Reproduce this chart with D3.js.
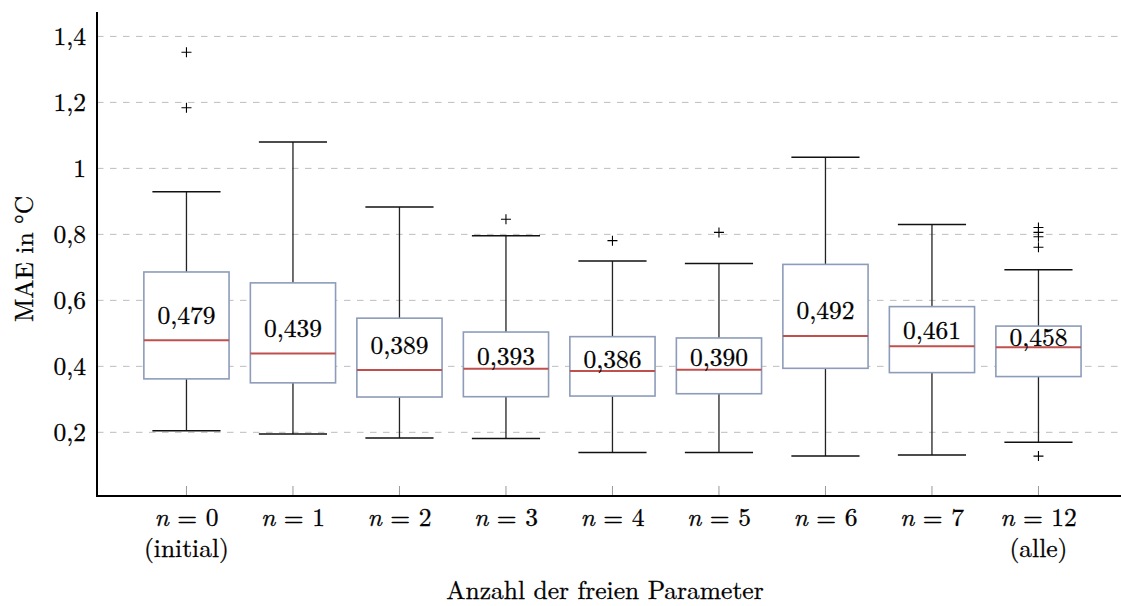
<!DOCTYPE html>
<html>
<head>
<meta charset="utf-8">
<script src="https://cdn.jsdelivr.net/npm/d3@7"></script>
<style>
  html, body { margin: 0; padding: 0; background: #fff; }
  svg { display: block; }
  svg text { fill: #000; stroke: #000; stroke-width: 0.3px; }
</style>
</head>
<body>
<svg id="chart" width="1121" height="606"></svg>
<script>
// Number of free parameters per configuration
const categories = ["0", "1", "2", "3", "4", "5", "6", "7", "12"];
const subLabels  = ["(initial)", "", "", "", "", "", "", "", "(alle)"];

// Box statistics of the MAE (°C)
const lowerWhisker  = [0.205, 0.195, 0.183, 0.181, 0.139, 0.139, 0.128, 0.131, 0.170];
const lowerQuartile = [0.362, 0.350, 0.307, 0.308, 0.310, 0.317, 0.394, 0.381, 0.369];
const median        = [0.479, 0.439, 0.389, 0.393, 0.386, 0.390, 0.492, 0.461, 0.458];
const upperQuartile = [0.686, 0.653, 0.546, 0.504, 0.490, 0.486, 0.709, 0.581, 0.522];
const upperWhisker  = [0.929, 1.080, 0.883, 0.796, 0.719, 0.712, 1.034, 0.830, 0.693];
// Mean MAE, where each median label is anchored
const mean          = [0.552, 0.513, 0.461, 0.428, 0.419, 0.427, 0.568, 0.507, 0.486];
const outliers = [
  [1.352, 1.184],
  [],
  [],
  [0.846],
  [0.781],
  [0.806],
  [],
  [],
  [0.821, 0.806, 0.793, 0.761, 0.128]
];

const yTicks = [0.2, 0.4, 0.6, 0.8, 1.0, 1.2, 1.4];

const FONT = '"Latin Modern Roman", "Liberation Serif", serif';
const FS = 25.5;

const svg = d3.select("#chart");
const plot = { left: 97, bottom: 496, top: 12, right: 1121 };

const x = d3.scaleLinear().domain([-0.84, 8.775]).range([plot.left, plot.right]);
const y = d3.scaleLinear().domain([0.007, 1.474]).range([plot.bottom, plot.top]);

const fmt = v => (v === 1 ? "1" : d3.format(".1f")(v).replace(".", ","));
const fmt3 = v => d3.format(".3f")(v).replace(".", ",");

// Dashed horizontal grid
svg.append("g")
  .selectAll("line")
  .data(yTicks)
  .join("line")
  .attr("x1", plot.left).attr("x2", plot.right)
  .attr("y1", d => y(d)).attr("y2", d => y(d))
  .attr("stroke", "#bdbdbd").attr("stroke-width", 1)
  .attr("stroke-dasharray", "6.5,6.5");

// Y axis labels
const yAxis = d3.axisLeft(y).tickValues(yTicks).tickFormat(fmt).tickSize(0).tickPadding(11);
const gy = svg.append("g").attr("transform", `translate(${plot.left},0)`).call(yAxis);
gy.select(".domain").remove();
gy.selectAll("text")
  .attr("dy", "0.32em")
  .style("font-family", FONT).style("font-size", FS + "px").style("fill", "#000");

// X tick marks (inside)
svg.append("g")
  .selectAll("line")
  .data(categories)
  .join("line")
  .attr("x1", (d, i) => x(i)).attr("x2", (d, i) => x(i))
  .attr("y1", plot.bottom).attr("y2", plot.bottom - 10)
  .attr("stroke", "#999").attr("stroke-width", 1);

// Boxes
const boxW = 0.8, capW = 0.64;
const g = svg.append("g");
categories.forEach((c, i) => {
  const cx = x(i);
  const hw = (x(boxW / 2) - x(0));
  const cw = (x(capW / 2) - x(0));
  // whiskers
  g.append("line").attr("x1", cx).attr("x2", cx)
    .attr("y1", y(upperQuartile[i])).attr("y2", y(upperWhisker[i]))
    .attr("stroke", "#222").attr("stroke-width", 1.3);
  g.append("line").attr("x1", cx).attr("x2", cx)
    .attr("y1", y(lowerQuartile[i])).attr("y2", y(lowerWhisker[i]))
    .attr("stroke", "#222").attr("stroke-width", 1.3);
  g.append("line").attr("x1", cx - cw).attr("x2", cx + cw)
    .attr("y1", y(upperWhisker[i])).attr("y2", y(upperWhisker[i]))
    .attr("stroke", "#111").attr("stroke-width", 1.5);
  g.append("line").attr("x1", cx - cw).attr("x2", cx + cw)
    .attr("y1", y(lowerWhisker[i])).attr("y2", y(lowerWhisker[i]))
    .attr("stroke", "#111").attr("stroke-width", 1.5);
  // box
  g.append("rect")
    .attr("x", cx - hw).attr("width", 2 * hw)
    .attr("y", y(upperQuartile[i])).attr("height", y(lowerQuartile[i]) - y(upperQuartile[i]))
    .attr("fill", "#fff").attr("stroke", "#8d9cb9").attr("stroke-width", 1.6);
  // median
  g.append("line").attr("x1", cx - hw).attr("x2", cx + hw)
    .attr("y1", y(median[i])).attr("y2", y(median[i]))
    .attr("stroke", "#c0504d").attr("stroke-width", 2);
  // median value label, centred on the mean
  g.append("text")
    .attr("x", cx).attr("y", y(mean[i])).attr("dy", "0.32em")
    .attr("text-anchor", "middle")
    .style("font-family", FONT).style("font-size", FS + "px")
    .text(fmt3(median[i]));
  // outliers
  outliers[i].forEach(v => {
    const py = y(v);
    g.append("path")
      .attr("d", `M${cx - 5},${py}H${cx + 5}M${cx},${py - 5}V${py + 5}`)
      .attr("stroke", "#000").attr("stroke-width", 1.1).attr("fill", "none");
  });
});

// Axis lines
svg.append("line").attr("x1", plot.left).attr("x2", plot.left).attr("y1", plot.top).attr("y2", plot.bottom + 1)
  .attr("stroke", "#000").attr("stroke-width", 2);
svg.append("line").attr("x1", plot.left - 1).attr("x2", plot.right).attr("y1", plot.bottom).attr("y2", plot.bottom)
  .attr("stroke", "#000").attr("stroke-width", 2);

// X tick labels
const xl = svg.append("g");
categories.forEach((c, i) => {
  const t = xl.append("text").attr("x", x(i)).attr("y", 526)
    .attr("text-anchor", "middle")
    .style("font-family", FONT).style("font-size", FS + "px");
  t.append("tspan").style("font-style", "italic").text("n");
  t.append("tspan").text(" = " + c);
  if (subLabels[i]) {
    xl.append("text").attr("x", x(i)).attr("y", 557)
      .attr("text-anchor", "middle")
      .style("font-family", FONT).style("font-size", FS + "px")
      .text(subLabels[i]);
  }
});

// Axis titles
svg.append("text").attr("x", 605).attr("y", 599)
  .attr("text-anchor", "middle")
  .style("font-family", FONT).style("font-size", FS + "px")
  .text("Anzahl der freien Parameter");
svg.append("text")
  .attr("transform", "translate(33,259) rotate(-90)")
  .attr("text-anchor", "middle")
  .style("font-family", FONT).style("font-size", FS + "px")
  .text("MAE in °C");
</script>
</body>
</html>
